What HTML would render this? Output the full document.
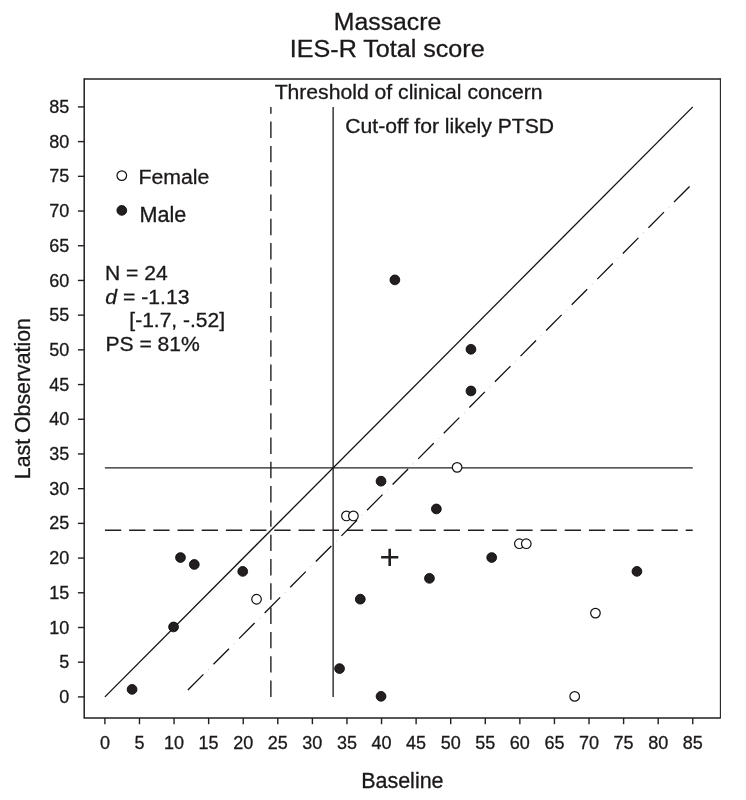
<!DOCTYPE html>
<html lang="en">
<head>
<meta charset="utf-8">
<title>Massacre IES-R Total score</title>
<style>
html,body{margin:0;padding:0;background:#fff;}
body{width:746px;height:800px;overflow:hidden;}
svg{display:block;}
text{font-family:"Liberation Sans",Arial,Helvetica,sans-serif;fill:#1b1819;stroke:#1b1819;stroke-width:0.3px;}
</style>
</head>
<body>
<svg width="746" height="800" viewBox="0 0 746 800">
<rect x="0" y="0" width="746" height="800" fill="#ffffff"/>
<g fill="none" stroke="#231f20">
<line x1="333.13" y1="696.90" x2="333.13" y2="106.91" stroke-width="1.35"/>
<line x1="104.90" y1="467.85" x2="692.76" y2="467.85" stroke-width="1.35"/>
<line x1="270.88" y1="696.90" x2="270.88" y2="106.91" stroke-width="1.4" stroke-dasharray="16.4 7.9"/>
<line x1="104.90" y1="530.32" x2="692.76" y2="530.32" stroke-width="1.4" stroke-dasharray="16.3 7.9"/>
<line x1="104.90" y1="696.90" x2="692.76" y2="106.91" stroke-width="1.3" stroke="#111"/>
<line x1="187.89" y1="689.96" x2="692.76" y2="183.27" stroke-width="1.3" stroke="#111" stroke-dasharray="22 14.25"/>
<line x1="187.89" y1="689.96" x2="692.76" y2="183.27" stroke-width="1.2" stroke="#d8d8d8" stroke-dasharray="1.2 35.05" stroke-dashoffset="-28.5"/>
</g>
<path d="M84.2 78.25V718.65M83.45 717.9H720.80" fill="none" stroke="#231f20" stroke-width="1.5"/>
<path d="M84.2 79.0H720.40" fill="none" stroke="#231f20" stroke-width="1.45"/>
<path d="M720.40 78.30V717.9" fill="none" stroke="#231f20" stroke-width="1.1"/>
<g stroke="#231f20" stroke-width="1.4">
<line x1="104.90" y1="717.9" x2="104.90" y2="724.20"/>
<line x1="84.2" y1="696.90" x2="77.90" y2="696.90"/>
<line x1="139.48" y1="717.9" x2="139.48" y2="724.20"/>
<line x1="84.2" y1="662.19" x2="77.90" y2="662.19"/>
<line x1="174.06" y1="717.9" x2="174.06" y2="724.20"/>
<line x1="84.2" y1="627.49" x2="77.90" y2="627.49"/>
<line x1="208.64" y1="717.9" x2="208.64" y2="724.20"/>
<line x1="84.2" y1="592.78" x2="77.90" y2="592.78"/>
<line x1="243.22" y1="717.9" x2="243.22" y2="724.20"/>
<line x1="84.2" y1="558.08" x2="77.90" y2="558.08"/>
<line x1="277.80" y1="717.9" x2="277.80" y2="724.20"/>
<line x1="84.2" y1="523.38" x2="77.90" y2="523.38"/>
<line x1="312.38" y1="717.9" x2="312.38" y2="724.20"/>
<line x1="84.2" y1="488.67" x2="77.90" y2="488.67"/>
<line x1="346.96" y1="717.9" x2="346.96" y2="724.20"/>
<line x1="84.2" y1="453.96" x2="77.90" y2="453.96"/>
<line x1="381.54" y1="717.9" x2="381.54" y2="724.20"/>
<line x1="84.2" y1="419.26" x2="77.90" y2="419.26"/>
<line x1="416.12" y1="717.9" x2="416.12" y2="724.20"/>
<line x1="84.2" y1="384.56" x2="77.90" y2="384.56"/>
<line x1="450.70" y1="717.9" x2="450.70" y2="724.20"/>
<line x1="84.2" y1="349.85" x2="77.90" y2="349.85"/>
<line x1="485.28" y1="717.9" x2="485.28" y2="724.20"/>
<line x1="84.2" y1="315.14" x2="77.90" y2="315.14"/>
<line x1="519.86" y1="717.9" x2="519.86" y2="724.20"/>
<line x1="84.2" y1="280.44" x2="77.90" y2="280.44"/>
<line x1="554.44" y1="717.9" x2="554.44" y2="724.20"/>
<line x1="84.2" y1="245.74" x2="77.90" y2="245.74"/>
<line x1="589.02" y1="717.9" x2="589.02" y2="724.20"/>
<line x1="84.2" y1="211.03" x2="77.90" y2="211.03"/>
<line x1="623.60" y1="717.9" x2="623.60" y2="724.20"/>
<line x1="84.2" y1="176.33" x2="77.90" y2="176.33"/>
<line x1="658.18" y1="717.9" x2="658.18" y2="724.20"/>
<line x1="84.2" y1="141.62" x2="77.90" y2="141.62"/>
<line x1="692.76" y1="717.9" x2="692.76" y2="724.20"/>
<line x1="84.2" y1="106.91" x2="77.90" y2="106.91"/>
</g>
<g font-size="18">
<text x="104.90" y="749" text-anchor="middle">0</text>
<text x="139.48" y="749" text-anchor="middle">5</text>
<text x="174.06" y="749" text-anchor="middle">10</text>
<text x="208.64" y="749" text-anchor="middle">15</text>
<text x="243.22" y="749" text-anchor="middle">20</text>
<text x="277.80" y="749" text-anchor="middle">25</text>
<text x="312.38" y="749" text-anchor="middle">30</text>
<text x="346.96" y="749" text-anchor="middle">35</text>
<text x="381.54" y="749" text-anchor="middle">40</text>
<text x="416.12" y="749" text-anchor="middle">45</text>
<text x="450.70" y="749" text-anchor="middle">50</text>
<text x="485.28" y="749" text-anchor="middle">55</text>
<text x="519.86" y="749" text-anchor="middle">60</text>
<text x="554.44" y="749" text-anchor="middle">65</text>
<text x="589.02" y="749" text-anchor="middle">70</text>
<text x="623.60" y="749" text-anchor="middle">75</text>
<text x="658.18" y="749" text-anchor="middle">80</text>
<text x="692.76" y="749" text-anchor="middle">85</text>
<text x="69.2" y="703.00" text-anchor="end">0</text>
<text x="69.2" y="668.29" text-anchor="end">5</text>
<text x="69.2" y="633.59" text-anchor="end">10</text>
<text x="69.2" y="598.88" text-anchor="end">15</text>
<text x="69.2" y="564.18" text-anchor="end">20</text>
<text x="69.2" y="529.48" text-anchor="end">25</text>
<text x="69.2" y="494.77" text-anchor="end">30</text>
<text x="69.2" y="460.06" text-anchor="end">35</text>
<text x="69.2" y="425.36" text-anchor="end">40</text>
<text x="69.2" y="390.66" text-anchor="end">45</text>
<text x="69.2" y="355.95" text-anchor="end">50</text>
<text x="69.2" y="321.25" text-anchor="end">55</text>
<text x="69.2" y="286.54" text-anchor="end">60</text>
<text x="69.2" y="251.84" text-anchor="end">65</text>
<text x="69.2" y="217.13" text-anchor="end">70</text>
<text x="69.2" y="182.43" text-anchor="end">75</text>
<text x="69.2" y="147.72" text-anchor="end">80</text>
<text x="69.2" y="113.01" text-anchor="end">85</text>
</g>
<g fill="#231f20" stroke="#000" stroke-width="0.8">
<circle cx="132.06" cy="689.41" r="4.9"/>
<circle cx="173.56" cy="626.94" r="4.9"/>
<circle cx="180.48" cy="557.53" r="4.9"/>
<circle cx="194.31" cy="564.47" r="4.9"/>
<circle cx="242.72" cy="571.41" r="4.9"/>
<circle cx="339.54" cy="668.59" r="4.9"/>
<circle cx="360.29" cy="599.18" r="4.9"/>
<circle cx="381.04" cy="696.35" r="4.9"/>
<circle cx="381.04" cy="481.18" r="4.9"/>
<circle cx="394.87" cy="279.89" r="4.9"/>
<circle cx="429.45" cy="578.35" r="4.9"/>
<circle cx="436.37" cy="508.94" r="4.9"/>
<circle cx="470.95" cy="349.30" r="4.9"/>
<circle cx="470.95" cy="390.95" r="4.9"/>
<circle cx="491.70" cy="557.53" r="4.9"/>
<circle cx="636.93" cy="571.41" r="4.9"/>
<circle cx="121.8" cy="210.4" r="4.9"/>
</g>
<g fill="#fff" stroke="#111" stroke-width="1.2">
<circle cx="256.55" cy="599.23" r="4.8"/>
<circle cx="346.46" cy="515.93" r="4.8"/>
<circle cx="353.38" cy="515.93" r="4.8"/>
<circle cx="457.12" cy="467.35" r="4.8"/>
<circle cx="519.36" cy="543.70" r="4.8"/>
<circle cx="526.28" cy="543.70" r="4.8"/>
<circle cx="574.69" cy="696.40" r="4.8"/>
<circle cx="595.44" cy="613.11" r="4.8"/>
<circle cx="121.8" cy="175.6" r="4.8"/>
</g>
<path d="M381.10 557.3H398.30M389.7 548.70V565.90" stroke="#231f20" stroke-width="2.6" fill="none"/>
<text transform="translate(333.81 29.70) scale(1.0215 1)" font-size="24.30" xml:space="preserve">Massacre</text>
<text transform="translate(289.84 57.30) scale(1.0334 1)" font-size="24.30" xml:space="preserve">IES-R Total score</text>
<text transform="translate(274.63 98.90) scale(1.0378 1)" font-size="20.40" xml:space="preserve">Threshold of clinical concern</text>
<text transform="translate(345.34 132.50) scale(1.0371 1)" font-size="20.40" xml:space="preserve">Cut-off for likely PTSD</text>
<text transform="translate(138.40 183.80) scale(1.0132 1)" font-size="21.00" xml:space="preserve">Female</text>
<text transform="translate(139.57 221.60) scale(1.0197 1)" font-size="21.20" xml:space="preserve">Male</text>
<text transform="translate(105.01 279.50) scale(1.0285 1)" font-size="20.50" xml:space="preserve">N = 24</text>
<text transform="translate(105.37 303.90) scale(1.0319 1)" font-size="20.50" xml:space="preserve"><tspan font-style="italic">d</tspan> = -1.13</text>
<text transform="translate(129.33 327.40) scale(1.0253 1)" font-size="20.50" xml:space="preserve">[-1.7, -.52]</text>
<text transform="translate(105.41 350.50) scale(1.0304 1)" font-size="20.50" xml:space="preserve">PS = 81%</text>
<text transform="translate(361.18 787.90) scale(1.0133 1)" font-size="21.20" xml:space="preserve">Baseline</text>
<text transform="translate(29.8 479.21) rotate(-90)" font-size="21.32">Last Observation</text>
</svg>
</body>
</html>
